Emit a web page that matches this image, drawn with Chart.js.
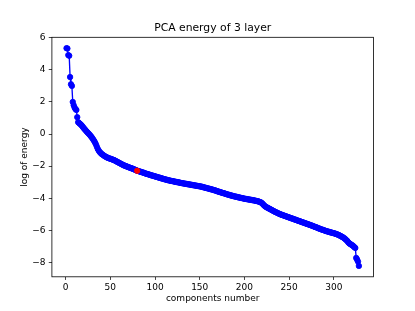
<!DOCTYPE html>
<html><head><meta charset="utf-8">
<script src="https://cdn.jsdelivr.net/npm/chart.js@4.4.0/dist/chart.umd.min.js"></script>
<style>html,body{margin:0;padding:0;background:#fff}</style>
</head><body>
<canvas id="c" width="415" height="311"></canvas>
<script>
// log of energy for components 1..328
const energy = [
  5.35, 5.33, 4.92, 4.88, 3.55, 3.10, 3.00, 2.00, 1.80, 1.65,
  1.56, 1.50, 1.05, 0.74, 0.69, 0.64, 0.59, 0.53, 0.46, 0.39,
  0.32, 0.26, 0.19, 0.13, 0.07, 0.01, -0.05, -0.12, -0.19, -0.27,
  -0.35, -0.44, -0.54, -0.66, -0.80, -0.93, -1.03, -1.11, -1.17, -1.23,
  -1.27, -1.31, -1.35, -1.39, -1.42, -1.45, -1.48, -1.50, -1.52, -1.54,
  -1.56, -1.58, -1.60, -1.62, -1.65, -1.68, -1.71, -1.74, -1.77, -1.80,
  -1.83, -1.86, -1.89, -1.92, -1.95, -1.97, -1.99, -2.01, -2.04, -2.06,
  -2.08, -2.10, -2.12, -2.14, -2.16, -2.19, -2.21, -2.23, -2.26, -2.29,
  -2.30, -2.32, -2.34, -2.36, -2.37, -2.39, -2.41, -2.43, -2.45, -2.47,
  -2.49, -2.50, -2.52, -2.54, -2.56, -2.57, -2.59, -2.61, -2.62, -2.64,
  -2.66, -2.67, -2.69, -2.71, -2.72, -2.74, -2.76, -2.77, -2.79, -2.81,
  -2.82, -2.84, -2.85, -2.87, -2.88, -2.89, -2.91, -2.92, -2.93, -2.94,
  -2.95, -2.97, -2.98, -2.99, -3.00, -3.01, -3.02, -3.04, -3.05, -3.06,
  -3.07, -3.08, -3.09, -3.10, -3.11, -3.12, -3.13, -3.14, -3.15, -3.16,
  -3.17, -3.18, -3.19, -3.20, -3.21, -3.22, -3.23, -3.24, -3.25, -3.26,
  -3.27, -3.28, -3.30, -3.31, -3.33, -3.34, -3.36, -3.37, -3.39, -3.40,
  -3.42, -3.43, -3.45, -3.46, -3.48, -3.50, -3.51, -3.53, -3.55, -3.57,
  -3.59, -3.61, -3.62, -3.64, -3.66, -3.68, -3.69, -3.71, -3.73, -3.75,
  -3.76, -3.78, -3.80, -3.81, -3.83, -3.84, -3.86, -3.87, -3.89, -3.90,
  -3.91, -3.93, -3.94, -3.95, -3.97, -3.98, -3.99, -4.00, -4.02, -4.03,
  -4.04, -4.05, -4.06, -4.07, -4.08, -4.09, -4.10, -4.11, -4.12, -4.13,
  -4.14, -4.15, -4.17, -4.18, -4.19, -4.21, -4.23, -4.25, -4.28, -4.33,
  -4.39, -4.45, -4.50, -4.54, -4.57, -4.60, -4.63, -4.66, -4.69, -4.72,
  -4.75, -4.78, -4.81, -4.84, -4.87, -4.89, -4.92, -4.95, -4.97, -5.00,
  -5.02, -5.04, -5.06, -5.08, -5.10, -5.12, -5.14, -5.16, -5.18, -5.20,
  -5.22, -5.24, -5.26, -5.28, -5.30, -5.32, -5.34, -5.36, -5.38, -5.40,
  -5.42, -5.44, -5.46, -5.48, -5.50, -5.52, -5.54, -5.56, -5.58, -5.60,
  -5.62, -5.64, -5.66, -5.68, -5.70, -5.72, -5.74, -5.77, -5.79, -5.81,
  -5.83, -5.85, -5.88, -5.90, -5.92, -5.94, -5.96, -5.98, -6.00, -6.02,
  -6.04, -6.06, -6.07, -6.09, -6.11, -6.12, -6.14, -6.15, -6.17, -6.18,
  -6.20, -6.22, -6.24, -6.26, -6.28, -6.31, -6.34, -6.37, -6.40, -6.43,
  -6.47, -6.51, -6.56, -6.61, -6.66, -6.74, -6.80, -6.84, -6.88, -6.91,
  -6.95, -7.00, -7.05, -7.10, -7.72, -7.82, -7.95, -8.22
];
const highlightComponent = 80;
const xTicks = [0, 50, 100, 150, 200, 250, 300];
const yTicks = [-8, -6, -4, -2, 0, 2, 4, 6];
const titleText = 'PCA energy of 3 layer';
const xLabel = 'components number';
const yLabel = 'log of energy';

const points = energy.map((v, i) => ({x: i + 1, y: v}));
const highlight = [{x: highlightComponent, y: energy[highlightComponent - 1]}];

const xr = points.length - 1;
const xMin = 1 - 0.05 * xr, xMax = points.length + 0.05 * xr;
const yLo = Math.min(...energy), yHi = Math.max(...energy);
const yr = yHi - yLo;
const yMin = yLo - 0.05 * yr, yMax = yHi + 0.05 * yr;

const FONT = 'DejaVu Sans';
const fmt = v => String(v).replace('-', '\u2212');

const bgPlugin = {
  id: 'bg',
  beforeDraw(chart) {
    const ctx = chart.ctx;
    ctx.save(); ctx.fillStyle = '#fff';
    ctx.fillRect(0, 0, chart.width, chart.height); ctx.restore();
  },
  afterDraw(chart) {
    const a = chart.chartArea, ctx = chart.ctx;
    ctx.save(); ctx.strokeStyle = '#000'; ctx.lineWidth = 0.8;
    ctx.strokeRect(a.left, a.top, a.right - a.left, a.bottom - a.top);
    ctx.restore();
  }
};

new Chart(document.getElementById('c'), {
  type: 'line',
  data: {
    datasets: [
      {
        data: highlight, order: 0,
        borderColor: '#ff0000', backgroundColor: '#ff0000',
        pointBackgroundColor: '#ff0000', pointBorderColor: '#ff0000',
        pointRadius: 2.7, pointBorderWidth: 0.9, showLine: false
      },
      {
        data: points, order: 1,
        borderColor: '#0000ff', borderWidth: 1.35,
        pointBackgroundColor: '#0000ff', pointBorderColor: '#0000ff',
        pointRadius: 2.7, pointBorderWidth: 0.9, tension: 0, fill: false
      }
    ]
  },
  options: {
    responsive: false, animation: false, devicePixelRatio: 1,
    layout: {padding: {left: 0, right: 41.5, top: 0, bottom: 0}},
    plugins: {
      legend: {display: false}, tooltip: {enabled: false},
      title: {
        display: true, fullSize: false, text: titleText, color: '#000',
        font: {family: FONT, size: 10.8, weight: 'normal', lineHeight: 1.2},
        padding: {top: 21.7, bottom: 2.64}
      }
    },
    scales: {
      x: {
        type: 'linear', min: xMin, max: xMax,
        afterFit: s => { s.height = 34.2; },
        afterBuildTicks: s => { s.ticks = xTicks.map(v => ({value: v})); },
        grid: {drawOnChartArea: false, tickLength: 3.15, tickColor: '#000', tickWidth: 0.72},
        border: {display: false},
        ticks: {color: '#000', font: {family: FONT, size: 9}, padding: 2, maxRotation: 0, callback: fmt},
        title: {display: true, text: xLabel, color: '#000', font: {family: FONT, size: 9, lineHeight: 1.2}, padding: {top: 0, bottom: 7.3}}
      },
      y: {
        type: 'linear', min: yMin, max: yMax,
        afterFit: s => { s.width = 51.9; },
        afterBuildTicks: s => { s.ticks = yTicks.map(v => ({value: v})); },
        grid: {drawOnChartArea: false, tickLength: 3.15, tickColor: '#000', tickWidth: 0.72},
        border: {display: false},
        ticks: {color: '#000', font: {family: FONT, size: 9}, padding: 3.15, callback: fmt},
        title: {display: true, text: yLabel, color: '#000', font: {family: FONT, size: 9, lineHeight: 1.2}, padding: {top: 18.8, bottom: 0}}
      }
    }
  },
  plugins: [bgPlugin]
});
</script>
</body></html>
